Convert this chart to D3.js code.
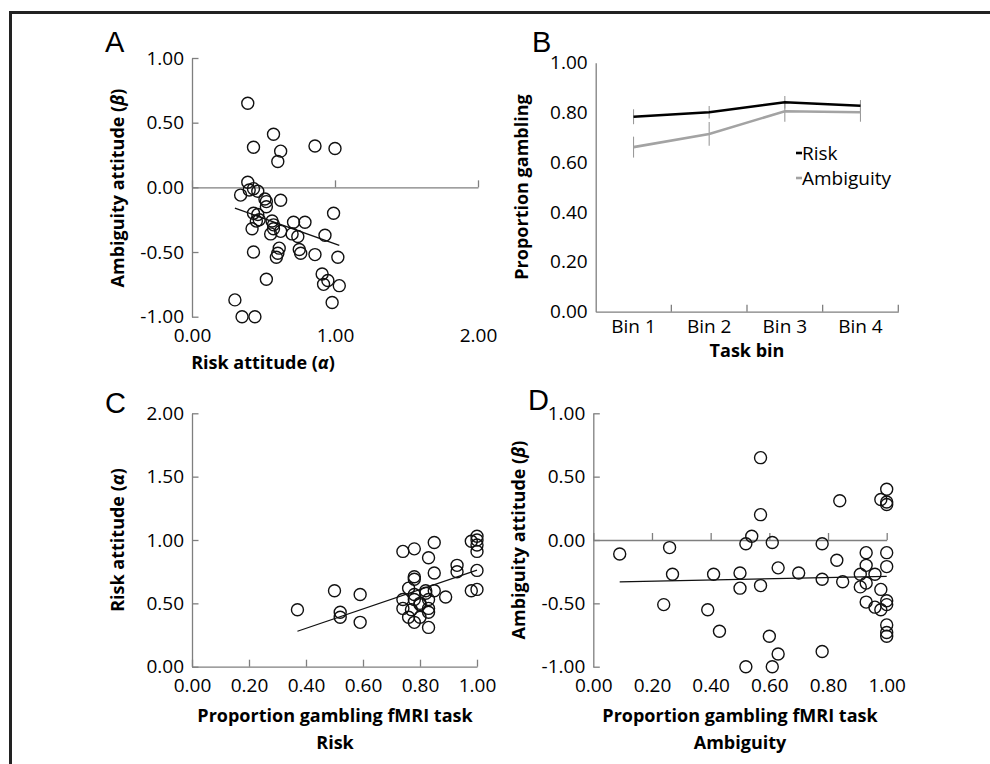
<!DOCTYPE html>
<html>
<head>
<meta charset="utf-8">
<script src="https://cdn.jsdelivr.net/npm/d3@7"></script>
<style>
  body { margin: 0; background: #fff; }
  text { font-family: "Open Sans", sans-serif; fill: #000; }
</style>
</head>
<body>
<svg id="fig" width="990" height="764"></svg>
<script>
// panel A: risk attitude (alpha) vs ambiguity attitude (beta)
const panelAPoints = [
    [0.39, 0.65], [0.57, 0.41], [0.43, 0.31], [0.62, 0.28], [0.60, 0.20], [0.86, 0.32], [1.00, 0.30],
    [0.39, 0.04], [0.34, -0.06], [0.40, -0.02], [0.43, -0.01], [0.46, -0.03], [0.51, -0.09], [0.52, -0.11],
    [0.62, -0.10], [0.52, -0.15], [0.43, -0.20], [0.46, -0.21], [0.45, -0.26], [0.47, -0.25], [0.42, -0.32],
    [0.56, -0.26], [0.57, -0.29], [0.57, -0.32], [0.55, -0.36], [0.62, -0.34], [0.71, -0.27], [0.79, -0.27],
    [0.70, -0.36], [0.74, -0.38], [0.93, -0.37], [0.99, -0.20], [0.61, -0.47], [0.60, -0.51], [0.59, -0.54],
    [0.43, -0.50], [0.75, -0.48], [0.76, -0.51], [0.86, -0.52], [1.02, -0.54], [0.52, -0.71], [0.91, -0.67],
    [0.92, -0.75], [0.95, -0.72], [1.03, -0.76], [0.98, -0.89], [0.30, -0.87], [0.35, -1.00], [0.44, -1.00],
];
const panelATrend = [-0.395, -0.042]; // slope, intercept

// panel B: proportion gambling per task bin
const bins = ['Bin 1', 'Bin 2', 'Bin 3', 'Bin 4'];
const riskMean = [0.783, 0.801, 0.841, 0.827];
const riskErr = [0.030, 0.025, 0.025, 0.023];
const ambMean = [0.661, 0.714, 0.805, 0.801];
const ambErr = [0.042, 0.048, 0.042, 0.038];

// panel C: proportion gambling (risk) vs risk attitude
const panelCPoints = [
    [0.37, 0.45], [0.50, 0.60], [0.52, 0.43], [0.52, 0.39], [0.59, 0.57], [0.59, 0.35],
    [0.74, 0.91], [0.78, 0.93], [0.85, 0.98], [0.83, 0.86], [0.78, 0.71], [0.78, 0.69], [0.85, 0.74],
    [0.93, 0.80], [0.93, 0.75], [1.00, 1.03], [1.00, 1.00], [0.98, 0.99], [1.00, 0.96], [1.00, 0.91],
    [1.00, 0.76], [0.98, 0.60], [1.00, 0.61], [0.76, 0.62], [0.82, 0.60], [0.85, 0.60], [0.89, 0.55],
    [0.74, 0.53], [0.78, 0.57], [0.78, 0.53], [0.83, 0.53], [0.80, 0.49], [0.74, 0.46], [0.77, 0.45],
    [0.83, 0.46], [0.83, 0.43], [0.76, 0.39], [0.80, 0.39], [0.78, 0.35], [0.83, 0.31], [0.80, 0.50],
    [0.82, 0.58],
];
const panelCTrend = [0.767, -0.004];

// panel D: proportion gambling (ambiguity) vs ambiguity attitude
const panelDPoints = [
    [0.09, -0.11], [0.26, -0.06], [0.27, -0.27], [0.24, -0.51], [0.41, -0.27], [0.39, -0.55], [0.43, -0.72],
    [0.57, 0.65], [0.57, 0.20], [0.54, 0.03], [0.52, -0.03], [0.61, -0.02], [0.78, -0.03], [0.84, 0.31],
    [1.00, 0.40], [0.98, 0.32], [1.00, 0.30], [1.00, 0.28], [0.50, -0.26], [0.50, -0.38], [0.63, -0.22],
    [0.57, -0.36], [0.70, -0.26], [0.78, -0.31], [0.83, -0.16], [0.85, -0.33], [0.93, -0.10], [1.00, -0.10],
    [0.93, -0.20], [1.00, -0.21], [0.91, -0.27], [0.96, -0.27], [0.93, -0.34], [0.91, -0.37], [0.98, -0.39],
    [0.93, -0.49], [0.96, -0.53], [0.98, -0.55], [1.00, -0.48], [1.00, -0.51], [1.00, -0.67], [1.00, -0.73],
    [1.00, -0.76], [0.60, -0.76], [0.63, -0.90], [0.78, -0.88], [0.52, -1.00], [0.61, -1.00],
];
const panelDTrend = [0.048, -0.335];

const ticksPM1 = [-1, -0.5, 0, 0.5, 1];
const ticks02 = [0, 0.5, 1, 1.5, 2];
const ticks01 = [0, 0.2, 0.4, 0.6, 0.8, 1];

const svg = d3.select('#fig');
const axisColor = '#7f7f7f';
// plain hyphen as minus, like the original
const fmt = (d) => d3.format('.2f')(d).replace('\u2212', '-');

svg.append('rect').attr('width', 990).attr('height', 764).attr('fill', '#fff');
// frame (top + left)
svg.append('path')
    .attr('d', 'M10.5,764V12.5H990')
    .attr('fill', 'none')
    .attr('stroke', '#222')
    .attr('stroke-width', 3);

function styleAxis(g) {
    g.selectAll('path, line').attr('stroke', axisColor).attr('stroke-width', 1.3);
    g.selectAll('text').attr('font-size', 19).attr('fill', '#000').attr('font-family', '"Open Sans", sans-serif');
}

function panelLabel(txt, x, y) {
    svg.append('text').text(txt)
        .attr('x', x).attr('y', y)
        .attr('font-size', 29)
        .style('font-family', '"Liberation Sans", Arial, sans-serif');
}

function axisTitle(parts, x, y, rotate) {
    const t = svg.append('text')
        .attr('text-anchor', 'middle')
        .attr('font-size', 18)
        .attr('font-weight', 'bold')
        .attr('transform', `translate(${ x },${ y })` + (rotate ? ' rotate(-90)' : ''));
    parts.forEach((p) => {
        t.append('tspan').text(p.t).attr('font-style', p.i ? 'italic' : null);
    });
    return t;
}

function scatterPanel(opt) {
    const x = d3.scaleLinear().domain(opt.xDomain).range(opt.xRange);
    const y = d3.scaleLinear().domain(opt.yDomain).range(opt.yRange);

    // y axis, ticks pointing inward
    svg.append('g')
        .attr('transform', `translate(${ opt.xRange[0] },0)`)
        .call(d3.axisLeft(y).tickValues(opt.yTicks).tickFormat(fmt)
            .tickSizeInner(-6.5).tickSizeOuter(0).tickPadding(8))
        .call(styleAxis);

    // horizontal axis line (at y = 0 or bottom)
    const baseY = y(opt.xAxisAt);
    svg.append('g')
        .attr('transform', `translate(0,${ baseY })`)
        .call(d3.axisBottom(x).tickValues(opt.xTicks).tickFormat('')
            .tickSizeInner(-7).tickSizeOuter(0))
        .call(styleAxis);

    // x tick labels at the bottom of the plot
    svg.append('g')
        .attr('transform', `translate(0,${ opt.yRange[0] })`)
        .call(d3.axisBottom(x).tickValues(opt.xTicks).tickFormat(fmt)
            .tickSize(0).tickPadding(12))
        .call(styleAxis)
        .call((g) => g.select('.domain').remove());

    // trendline across the data range
    const ext = d3.extent(opt.points, (d) => d[0]);
    const line = d3.line().x((d) => x(d)).y((d) => y(opt.trend[0] * d + opt.trend[1]));
    svg.append('path')
        .datum(ext)
        .attr('d', line)
        .attr('fill', 'none')
        .attr('stroke', '#111')
        .attr('stroke-width', 1.3);

    svg.append('g')
        .selectAll('circle')
        .data(opt.points)
        .enter()
        .append('circle')
        .attr('cx', (d) => x(d[0]))
        .attr('cy', (d) => y(d[1]))
        .attr('r', 6)
        .attr('fill', 'none')
        .attr('stroke', '#111')
        .attr('stroke-width', 1.4);
}

// ---- A ----
scatterPanel({
    points: panelAPoints, trend: panelATrend,
    xDomain: [0, 2], xRange: [192, 478], xTicks: [0, 1, 2],
    yDomain: [-1, 1], yRange: [316.7, 58], yTicks: ticksPM1, xAxisAt: 0,
});
panelLabel('A', 105, 52);
axisTitle([{ t: 'Ambiguity attitude (' }, { t: 'β', i: true }, { t: ')' }], 124, 188, true);
axisTitle([{ t: 'Risk attitude (' }, { t: 'α', i: true }, { t: ')' }], 263, 369, false);

// ---- B ----
const xB = d3.scaleBand().domain(bins).range([595.7, 898.3]);
const yB = d3.scaleLinear().domain([0, 1]).range([311.7, 62.7]);

svg.append('g')
    .attr('transform', 'translate(595.7,0)')
    .call(d3.axisLeft(yB).tickValues(ticks01).tickFormat(fmt)
        .tickSize(0).tickPadding(8))
    .call(styleAxis);

const gxB = svg.append('g')
    .attr('transform', 'translate(0,311.7)')
    .call(d3.axisBottom(xB).tickSize(0).tickPadding(8))
    .call(styleAxis);
gxB.selectAll('.bnd')
    .data(bins)
    .enter()
    .append('line')
    .attr('x1', (d) => xB(d) + xB.bandwidth())
    .attr('x2', (d) => xB(d) + xB.bandwidth())
    .attr('y1', 0)
    .attr('y2', -7)
    .attr('stroke', axisColor)
    .attr('stroke-width', 1.3);

const cx = (d) => xB(d) + xB.bandwidth() / 2;
const seriesB = [
    { mean: riskMean, err: riskErr, color: '#000' },
    { mean: ambMean, err: ambErr, color: '#a3a3a3' },
];
seriesB.forEach((s) => {
    svg.append('g')
        .selectAll('line')
        .data(bins)
        .enter()
        .append('line')
        .attr('x1', cx).attr('x2', cx)
        .attr('y1', (d, i) => yB(s.mean[i] - s.err[i]))
        .attr('y2', (d, i) => yB(s.mean[i] + s.err[i]))
        .attr('stroke', '#9a9a9a')
        .attr('stroke-width', 1.1);
});
seriesB.slice().reverse().forEach((s) => {
    svg.append('path')
        .datum(bins)
        .attr('d', d3.line().x(cx).y((d, i) => yB(s.mean[i])))
        .attr('fill', 'none')
        .attr('stroke', s.color)
        .attr('stroke-width', 2.6);
});

// legend
[['Risk', '#000', 153], ['Ambiguity', '#a3a3a3', 178]].forEach(([name, col, ly]) => {
    svg.append('line')
        .attr('x1', 796).attr('x2', 802)
        .attr('y1', ly).attr('y2', ly)
        .attr('stroke', col).attr('stroke-width', 2.6);
    svg.append('text').text(name)
        .attr('x', 802).attr('y', ly)
        .attr('dy', '0.35em')
        .attr('font-size', 19);
});

panelLabel('B', 532, 52);
axisTitle([{ t: 'Proportion gambling' }], 528, 187, true);
axisTitle([{ t: 'Task bin' }], 747, 357, false);

// ---- C ----
scatterPanel({
    points: panelCPoints, trend: panelCTrend,
    xDomain: [0, 1], xRange: [192, 477], xTicks: ticks01,
    yDomain: [0, 2], yRange: [666.7, 413.3], yTicks: ticks02, xAxisAt: 0,
});
panelLabel('C', 105, 413);
axisTitle([{ t: 'Risk attitude (' }, { t: 'α', i: true }, { t: ')' }], 124, 540, true);
axisTitle([{ t: 'Proportion gambling fMRI task' }], 335, 722, false);
axisTitle([{ t: 'Risk' }], 335, 749, false);

// ---- D ----
scatterPanel({
    points: panelDPoints, trend: panelDTrend,
    xDomain: [0, 1], xRange: [593.3, 886.7], xTicks: ticks01,
    yDomain: [-1, 1], yRange: [666.7, 413.3], yTicks: ticksPM1, xAxisAt: 0,
});
panelLabel('D', 528, 410);
axisTitle([{ t: 'Ambiguity attitude (' }, { t: 'β', i: true }, { t: ')' }], 525, 540, true);
axisTitle([{ t: 'Proportion gambling fMRI task' }], 740, 722, false);
axisTitle([{ t: 'Ambiguity' }], 740, 749, false);
</script>
</body>
</html>
